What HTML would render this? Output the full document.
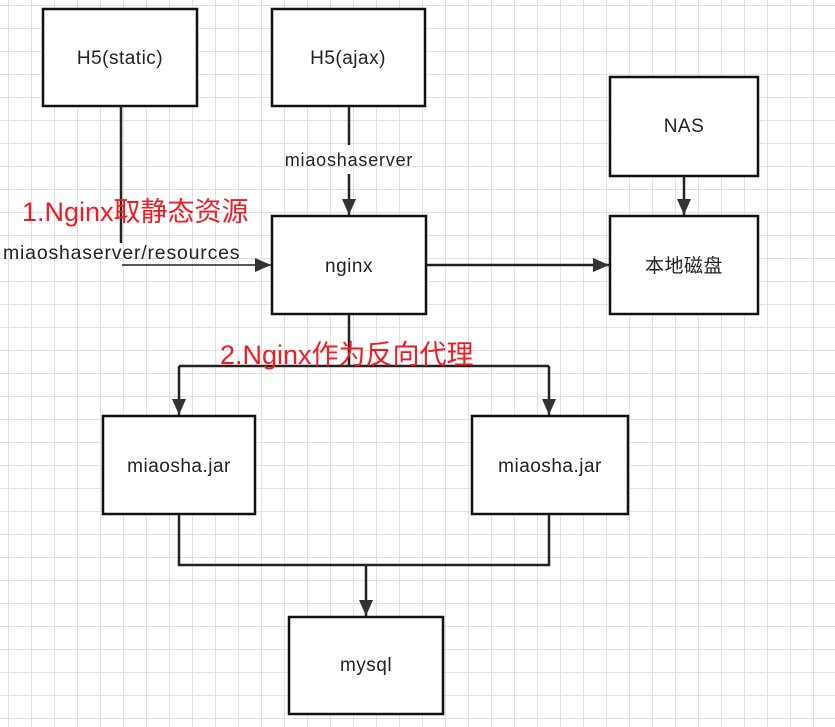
<!DOCTYPE html>
<html><head><meta charset="utf-8"><style>
html,body{margin:0;padding:0;background:#fff}
svg{display:block}
text{font-family:"Liberation Sans","Noto Sans CJK SC",sans-serif}
</style></head><body>
<svg width="835" height="727" viewBox="0 0 835 727" xmlns="http://www.w3.org/2000/svg">
<defs>
<pattern id="g" x="8" y="5" width="23" height="23" patternUnits="userSpaceOnUse">
<path d="M0 0H23M0 0V23" stroke="#e2e2e2" stroke-width="2" fill="none"/>
</pattern>
<marker id="a" markerWidth="16" markerHeight="14" refX="16" refY="7" orient="auto" markerUnits="userSpaceOnUse" viewBox="0 0 16 14">
<path d="M0 0L16 7L0 14z" fill="#333"/>
</marker>
</defs>
<rect width="835" height="727" fill="#fff"/>
<rect width="835" height="727" fill="url(#g)"/>
<g fill="#fff" stroke="#111" stroke-width="2.5">
<rect x="43" y="9" width="154" height="97"/>
<rect x="272" y="9" width="153" height="97"/>
<rect x="610" y="77" width="148" height="99"/>
<rect x="272" y="216" width="154" height="98"/>
<rect x="610" y="216" width="148" height="98"/>
<rect x="103" y="416" width="152" height="98"/>
<rect x="472" y="416" width="156" height="98"/>
<rect x="289" y="617" width="154" height="97"/>
</g>
<g stroke="#222" stroke-width="2.5" fill="none">
<path d="M121 106V243"/>
<path d="M122 265H271" stroke-width="1.5" marker-end="url(#a)"/>
<path d="M349 106V145M349 174V215" marker-end="url(#a)"/>
<path d="M426 265H609" marker-end="url(#a)"/>
<path d="M684 176V215" marker-end="url(#a)"/>
<path d="M349 314V366"/>
<path d="M179 366H549"/>
<path d="M179 366V415" marker-end="url(#a)"/>
<path d="M549 366V415" marker-end="url(#a)"/>
<path d="M179 514V565H549V514"/>
<path d="M366 565V616" marker-end="url(#a)"/>
</g>
<g font-size="19" fill="#222" text-anchor="middle" letter-spacing="0.5">
<text x="120" y="64">H5(static)</text>
<text x="348" y="64">H5(ajax)</text>
<text x="684" y="132">NAS</text>
<text x="349" y="272">nginx</text>
<text x="684" y="272">本地磁盘</text>
<text x="179" y="472">miaosha.jar</text>
<text x="550" y="472">miaosha.jar</text>
<text x="366" y="671">mysql</text>
</g>
<g font-size="18" fill="#222" letter-spacing="0.8">
<text x="349" y="166" text-anchor="middle">miaoshaserver</text>
<text x="3" y="259" font-size="19.5">miaoshaserver/resources</text>
</g>
<g font-size="27" fill="#f21b24">
<text x="22" y="221">1.Nginx取静态资源</text>
<text x="220" y="364">2.Nginx作为反向代理</text>
</g>
</svg>
</body></html>
